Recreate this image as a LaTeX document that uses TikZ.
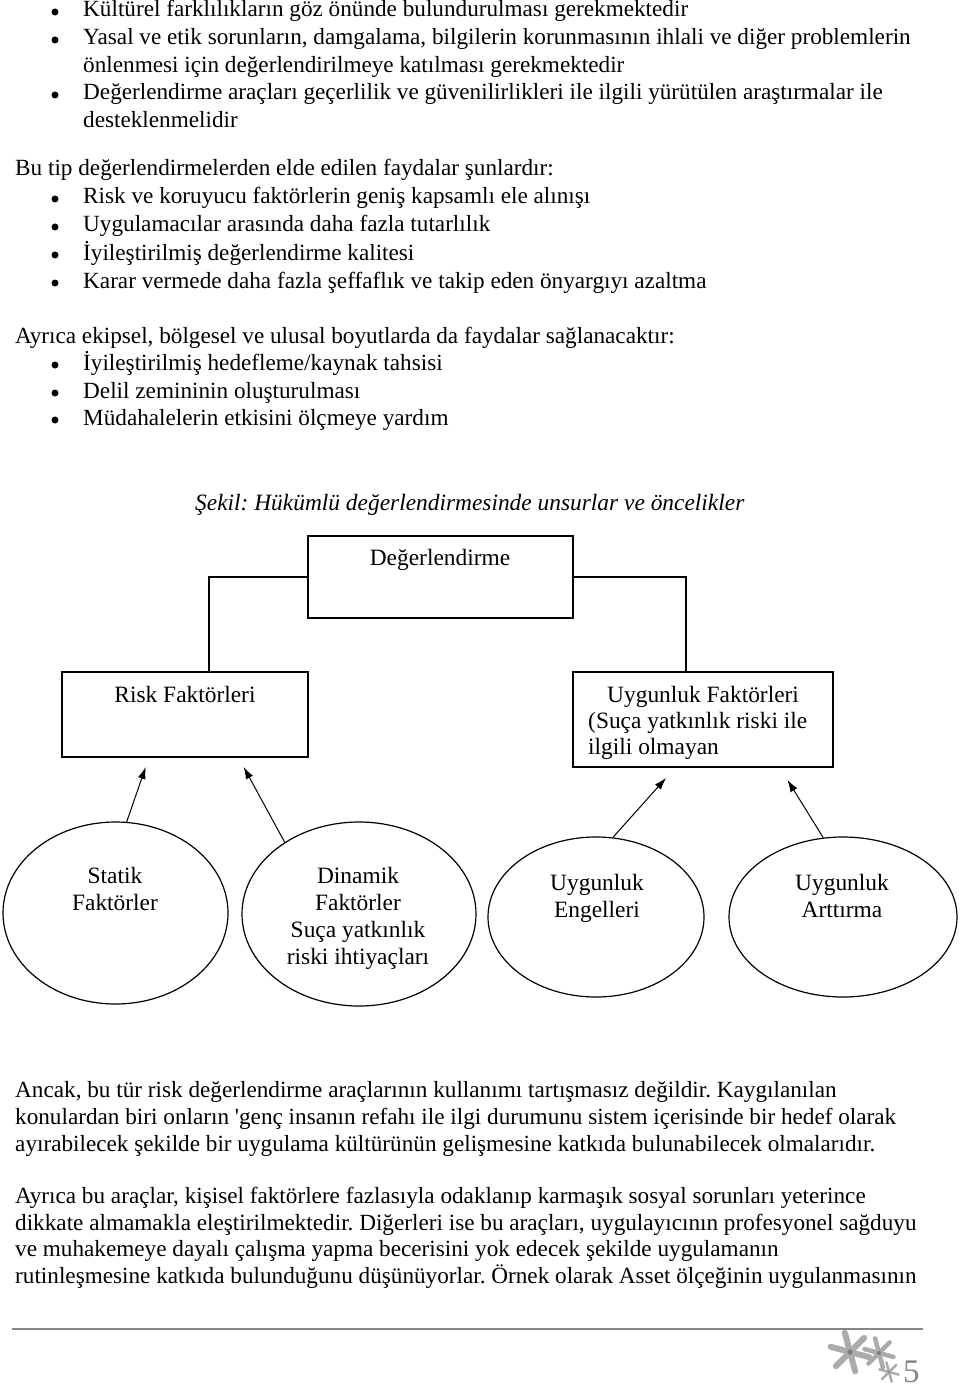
\documentclass[tikz,border=0pt]{standalone}
\usepackage{fontspec}
\setmainfont{Liberation Serif}
\usetikzlibrary{shapes.geometric,arrows.meta}
\definecolor{rulegray}{HTML}{858585}
\definecolor{petal}{HTML}{ABABAB}
\definecolor{petalcore}{HTML}{7C7C7C}
\newcommand{\bodysize}{\fontsize{23.2}{27}\selectfont\frenchspacing}
\newcommand{\diasize}{\fontsize{23.4}{27}\selectfont\frenchspacing}

\begin{document}
\begin{tikzpicture}[x=1pt,y=-1pt,
  txt/.style={anchor=base west, inner sep=0pt, font=\bodysize},
  dtxt/.style={anchor=base, inner sep=0pt, font=\diasize},
  dltxt/.style={anchor=base west, inner sep=0pt, font=\diasize},
  dot/.style={circle, fill=black, inner sep=0pt, minimum size=7pt},
  box/.style={rectangle, draw=black, line width=1.2pt, inner sep=0pt},
  oval/.style={ellipse, draw=black, line width=1.2pt, inner sep=0pt},
  arr/.style={-{Latex[length=12pt,width=8pt]}, line width=1pt}]
\useasboundingbox (0,0) rectangle (960,1388);

% upper text
\node[dot](d1) at (55,12) {};
\node[txt](l1) at (83,17) {Kültürel farklılıkların göz önünde bulundurulması gerekmektedir};
\node[dot](d2) at (55,40) {};
\node[txt](l2) at (83,45) {Yasal ve etik sorunların, damgalama, bilgilerin korunmasının ihlali ve diğer problemlerin};
\node[txt](l3) at (83,73) {önlenmesi için değerlendirilmeye katılması gerekmektedir};
\node[dot](d3) at (55,95) {};
\node[txt](l4) at (83,100) {Değerlendirme araçları geçerlilik ve güvenilirlikleri ile ilgili yürütülen araştırmalar ile};
\node[txt](l5) at (83,128) {desteklenmelidir};

\node[txt](f0) at (15,176) {Bu tip değerlendirmelerden elde edilen faydalar şunlardır:};
\node[dot](d4) at (55,199) {};
\node[txt](f1) at (83,204) {Risk ve koruyucu faktörlerin geniş kapsamlı ele alınışı};
\node[dot](d5) at (55,227) {};
\node[txt](f2) at (83,232) {Uygulamacılar arasında daha fazla tutarlılık};
\node[dot](d6) at (55,255) {};
\node[txt](f3) at (83,260) {İyileştirilmiş değerlendirme kalitesi};
\node[dot](d7) at (55,283) {};
\node[txt](f4) at (83,288) {Karar vermede daha fazla şeffaflık ve takip eden önyargıyı azaltma};

\node[txt](e0) at (15,343) {Ayrıca ekipsel, bölgesel ve ulusal boyutlarda da faydalar sağlanacaktır:};
\node[dot](d8) at (55,365) {};
\node[txt](e1) at (83,370) {İyileştirilmiş hedefleme/kaynak tahsisi};
\node[dot](d9) at (55,393) {};
\node[txt](e2) at (83,398) {Delil zemininin oluşturulması};
\node[dot](d10) at (55,420) {};
\node[txt](e3) at (83,425) {Müdahalelerin etkisini ölçmeye yardım};

% figure
\node[txt, font=\diasize\itshape](cap) at (195,510) {Şekil: Hükümlü değerlendirmesinde unsurlar ve öncelikler};

\node[box, minimum width=265, minimum height=82](deg) at (440.5,577) {};
\node[dtxt](degt) at (440,565) {Değerlendirme};

\node[box, minimum width=246, minimum height=85](risk) at (185,714.5) {};
\node[dtxt](riskt) at (185,702) {Risk Faktörleri};

\node[box, minimum width=260, minimum height=95](uyg) at (703,719.5) {};
\node[dltxt](uygt1) at (607,702) {Uygunluk Faktörleri};
\node[dltxt](uygt2) at (588,728) {(Suça yatkınlık riski ile};
\node[dltxt](uygt3) at (588,754) {ilgili olmayan};

\draw[line width=1.2pt] (deg.west) -| ([xshift=24]risk.north);
\draw[line width=1.2pt] (deg.east) -| ([xshift=-17]uyg.north);

% base of a multi-line node = last line
\node[oval, minimum width=225, minimum height=182](stat) at (115.5,913) {};
\node[dtxt, align=center](statt) at (115,910) {Statik\\Faktörler};
\node[oval, minimum width=234, minimum height=184](dyn) at (359,914) {};
\node[dtxt, align=center](dynt) at (358,964) {Dinamik\\Faktörler\\Suça yatkınlık\\riski ihtiyaçları};
\node[oval, minimum width=216, minimum height=160](eng) at (596,917) {};
\node[dtxt, align=center](engt) at (597,917) {Uygunluk\\Engelleri};
\node[oval, minimum width=228, minimum height=160](art) at (843,917) {};
\node[dtxt, align=center](artt) at (842,917) {Uygunluk\\Arttırma};

\coordinate (r1) at (145.7,767);
\coordinate (r2) at (243.7,767);
\coordinate (u1) at (666,778);
\coordinate (u2) at (787.5,780);
\draw[arr] (stat.83) -- (r1);
\draw[arr] (dyn.136) -- (r2);
\draw[arr] (eng.78) -- (u1);
\draw[arr] (art.104) -- (u2);

% lower text
\node[txt](p1) at (15,1097) {Ancak, bu tür risk değerlendirme araçlarının kullanımı tartışmasız değildir. Kaygılanılan};
\node[txt](p2) at (15,1124) {konulardan biri onların \textquotesingle genç insanın refahı ile ilgi durumunu sistem içerisinde bir hedef olarak};
\node[txt](p3) at (15,1151) {ayırabilecek şekilde bir uygulama kültürünün gelişmesine katkıda bulunabilecek olmalarıdır.};
\node[txt](q1) at (15,1203) {Ayrıca bu araçlar, kişisel faktörlere fazlasıyla odaklanıp karmaşık sosyal sorunları yeterince};
\node[txt](q2) at (15,1230) {dikkate almamakla eleştirilmektedir. Diğerleri ise bu araçları, uygulayıcının profesyonel sağduyu};
\node[txt](q3) at (15,1256) {ve muhakemeye dayalı çalışma yapma becerisini yok edecek şekilde uygulamanın};
\node[txt](q4) at (15,1283) {rutinleşmesine katkıda bulunduğunu düşünüyorlar. Örnek olarak Asset ölçeğinin uygulanmasının};

% footer
\draw[rulegray, line width=1.5pt] (12,1329) -- (923,1329);
\foreach \cx/\cy/\len/\wd in {850/1352/20/6, 879/1353/15/4.5, 889/1372/10/2.5}{
  \foreach \a in {15,75,...,315}
    \draw[petal, line width=\wd, line cap=round] (\cx,\cy) -- ++(\a:\len);
  \fill[petalcore] (\cx,\cy) circle (\wd*0.45);
}
\node[anchor=base west, inner sep=0pt, text=rulegray, font=\fontsize{33}{33}\selectfont](pg) at (903,1382) {5};
\end{tikzpicture}
\end{document}
